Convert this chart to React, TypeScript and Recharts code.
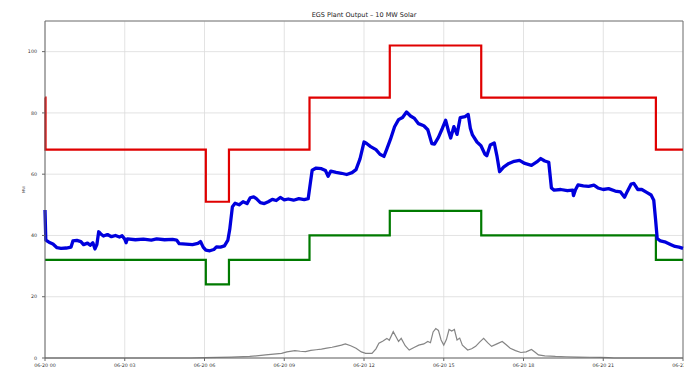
import React from 'react';
import { LineChart, Line, XAxis, YAxis, CartesianGrid, ReferenceLine } from 'recharts';

// Hours since 06-20 00:00 and plant output (MW)
const outputHours = [
  0.0, 0.03, 0.15, 0.3, 0.45, 0.6, 0.8, 0.98, 1.05, 1.2, 1.35, 1.45, 1.6, 1.7, 1.8, 1.88, 1.95,
  2.02, 2.1, 2.2, 2.35, 2.5, 2.65, 2.8, 2.9, 3.0, 3.05, 3.1, 3.4, 3.7, 4.0, 4.2, 4.5, 4.8, 4.95,
  5.05, 5.3, 5.55, 5.75, 5.85, 5.95, 6.05, 6.2, 6.35, 6.45, 6.6, 6.75, 6.88, 6.95, 7.05, 7.15,
  7.3, 7.45, 7.6, 7.72, 7.85, 7.95, 8.1, 8.25, 8.4, 8.55, 8.7, 8.85, 9.0, 9.15, 9.35, 9.55, 9.75,
  9.9, 9.98, 10.05, 10.2, 10.4, 10.55, 10.65, 10.75, 10.95, 11.15, 11.35, 11.55, 11.7, 11.85,
  12.0, 12.1, 12.25, 12.45, 12.6, 12.75, 12.85, 13.0, 13.15, 13.3, 13.45, 13.6, 13.75, 13.9,
  14.05, 14.25, 14.4, 14.55, 14.65, 14.8, 14.95, 15.07, 15.18, 15.26, 15.38, 15.5, 15.62, 15.8,
  15.92, 16.0, 16.08, 16.25, 16.4, 16.55, 16.62, 16.75, 16.9, 17.0, 17.1, 17.25, 17.45, 17.65,
  17.85, 18.05, 18.3, 18.5, 18.65, 18.8, 18.95, 19.05, 19.15, 19.4, 19.65, 19.85, 19.88, 19.95,
  20.05, 20.25, 20.45, 20.65, 20.8, 21.0, 21.2, 21.45, 21.65, 21.8, 21.9, 22.05, 22.15, 22.3,
  22.45, 22.65, 22.8, 22.9, 22.97, 23.03, 23.15, 23.35, 23.55, 23.7, 23.85, 24.0,
];
const outputMW = [
  48.3, 38.5, 37.8, 37.2, 36.0, 35.8, 35.9, 36.2, 38.2, 38.4, 38.0, 37.0, 37.5, 36.8, 37.6, 35.6, 37.0,
  41.2, 40.5, 39.8, 40.3, 39.6, 40.0, 39.5, 39.9, 38.8, 37.6, 38.9, 38.6, 38.8, 38.5, 38.9, 38.6, 38.7, 38.5,
  37.3, 37.2, 37.0, 37.4, 38.0, 36.2, 35.2, 35.0, 35.4, 36.3, 36.2, 36.6, 38.5, 42.0, 49.4, 50.5,
  50.0, 51.0, 50.4, 52.3, 52.6, 52.0, 50.7, 50.4, 51.0, 51.8, 51.4, 52.4, 51.6, 51.9, 51.5, 52.0, 51.7,
  52.0, 57.0, 61.3, 62.0, 61.8, 61.2, 59.3, 61.0, 60.6, 60.3, 59.9, 60.5, 61.5, 65.0,
  70.5, 70.0, 69.0, 68.0, 66.5, 65.8, 68.0, 71.5, 75.5, 77.8, 78.5, 80.3, 79.0, 78.2,
  76.5, 75.8, 74.5, 70.0, 69.8, 72.0, 75.0, 77.6, 74.0, 71.8, 75.5, 73.0, 78.5, 78.8,
  79.5, 75.0, 72.8, 70.5, 69.3, 66.5, 66.0, 69.5, 70.2, 66.0, 60.8, 62.3, 63.5, 64.2,
  64.5, 63.5, 62.9, 64.0, 65.1, 64.3, 63.9, 55.5, 54.8, 55.0, 54.6, 54.8, 53.0, 54.8,
  56.5, 56.2, 56.0, 56.4, 55.5, 55.0, 55.3, 54.5, 54.2, 52.5, 54.3, 56.8, 57.0, 55.0,
  55.0, 54.0, 53.2, 51.5, 45.0, 39.0, 38.2, 37.8, 37.0, 36.4, 36.2, 35.8,
];

// Schedule band: step change times (hours) with upper and lower limits (MW)
const limitHours = [0, 0.02, 6.05, 6.92, 9.95, 12.97, 16.41, 22.98, 24];
const upperMW = [85, 68, 51, 68, 85, 102, 85, 68, 68];
const lowerMW = [32, 32, 24, 32, 40, 48, 40, 32, 32];

// Solar array output (MW)
const solarHours = [
  0, 5.5, 6.0, 6.5, 7.0, 7.7, 8.3, 8.9, 9.1, 9.4, 9.6, 9.8, 10.0, 10.2, 10.4, 10.6, 10.8, 10.95,
  11.15, 11.3, 11.5, 11.7, 11.9, 12.06, 12.3, 12.45, 12.56, 12.7, 12.86, 12.95, 13.1, 13.2, 13.3,
  13.4, 13.55, 13.7, 13.9, 14.06, 14.25, 14.4, 14.5, 14.6, 14.7, 14.8, 14.9, 15.0, 15.1, 15.2,
  15.3, 15.4, 15.5, 15.6, 15.7, 15.9, 16.05, 16.2, 16.35, 16.5, 16.65, 16.8, 17.0, 17.2, 17.35,
  17.5, 17.7, 17.9, 18.1, 18.3, 18.45, 18.56, 18.8, 19.2, 19.6, 20.06, 20.5, 20.9, 21.2, 21.4, 24,
];
const solarMW = [
  0, 0, 0.1, 0.2, 0.3, 0.5, 1.0, 1.5, 2.0, 2.4, 2.2, 2.1, 2.5, 2.7, 2.9, 3.2, 3.5, 3.8,
  4.2, 4.6, 4.0, 3.2, 2.0, 1.5, 1.5, 3.0, 4.8, 5.5, 6.4, 5.8, 8.6, 7.0, 5.4,
  6.4, 4.0, 2.6, 3.5, 4.2, 4.6, 5.4, 5.0, 8.5, 9.6, 9.0, 5.9, 4.2, 6.0, 9.3,
  8.8, 9.3, 5.9, 6.5, 4.2, 2.6, 3.0, 3.8, 5.2, 6.4, 5.0, 3.8, 4.6, 5.4, 4.3,
  3.2, 2.4, 1.8, 2.0, 2.8, 1.8, 1.0, 0.7, 0.5, 0.4, 0.3, 0.25, 0.2, 0.1, 0, 0,
];

const hourTicks = [0, 3, 6, 9, 12, 15, 18, 21, 24];
const mwTicks = [0, 20, 40, 60, 80, 100];

const outputData = outputHours.map((t, i) => ({ t, mw: outputMW[i] }));
const upperData = limitHours.map((t, i) => ({ t, mw: upperMW[i] }));
const lowerData = limitHours.map((t, i) => ({ t, mw: lowerMW[i] }));
const solarData = solarHours.map((t, i) => ({ t, mw: solarMW[i] }));

const fmtHour = (h: number) => {
  const day = 20 + Math.floor(h / 24);
  const hh = h % 24;
  return `06-${day} ${String(hh).padStart(2, '0')}`;
};

const font = '"DejaVu Sans", sans-serif';
const tickStyle = { fontSize: 4.8, fill: '#333', fontFamily: font };

export default function App() {
  return (
    <div
      style={{
        position: 'absolute',
        left: 0,
        top: 0,
        width: 684,
        height: 370,
        overflow: 'hidden',
        background: '#fff',
      }}
    >
      <div
        style={{
          position: 'absolute',
          left: 45,
          width: 638,
          top: 11,
          textAlign: 'center',
          fontFamily: font,
          fontSize: 6.5,
          color: '#222',
          lineHeight: '8px',
        }}
      >
        EGS Plant Output – 10 MW Solar
      </div>
      <LineChart width={690} height={370} margin={{ top: 21, right: 7, bottom: 0, left: 0 }}>
        <CartesianGrid stroke="#dcdcdc" strokeWidth={0.8} />
        <XAxis
          type="number"
          dataKey="t"
          domain={[0, 24]}
          ticks={hourTicks}
          interval={0}
          tickFormatter={fmtHour}
          height={12}
          tickSize={3}
          tickMargin={3}
          tick={tickStyle}
          stroke="#666"
          allowDuplicatedCategory={false}
        />
        <YAxis
          type="number"
          domain={[0, 110]}
          ticks={mwTicks}
          width={45}
          tickSize={3}
          tickMargin={5}
          tick={tickStyle}
          stroke="#666"
          label={{
            value: 'MW',
            angle: -90,
            position: 'insideLeft',
            offset: 24,
            style: { fontSize: 3.8, fill: '#555', fontFamily: font, textAnchor: 'middle' },
          }}
        />
        <ReferenceLine y={110} stroke="#777" strokeWidth={1} />
        <ReferenceLine x={24} stroke="#777" strokeWidth={1} />
        <Line
          data={solarData}
          dataKey="mw"
          type="linear"
          stroke="#858585"
          strokeWidth={1.2}
          dot={false}
          isAnimationActive={false}
        />
        <Line
          data={upperData}
          dataKey="mw"
          type="stepAfter"
          stroke="#e00000"
          strokeWidth={2.2}
          dot={false}
          isAnimationActive={false}
        />
        <Line
          data={lowerData}
          dataKey="mw"
          type="stepAfter"
          stroke="#007a00"
          strokeWidth={2.2}
          dot={false}
          isAnimationActive={false}
        />
        <Line
          data={outputData}
          dataKey="mw"
          type="linear"
          stroke="#0000dd"
          strokeWidth={3.3}
          strokeLinejoin="round"
          dot={false}
          isAnimationActive={false}
        />
      </LineChart>
    </div>
  );
}
